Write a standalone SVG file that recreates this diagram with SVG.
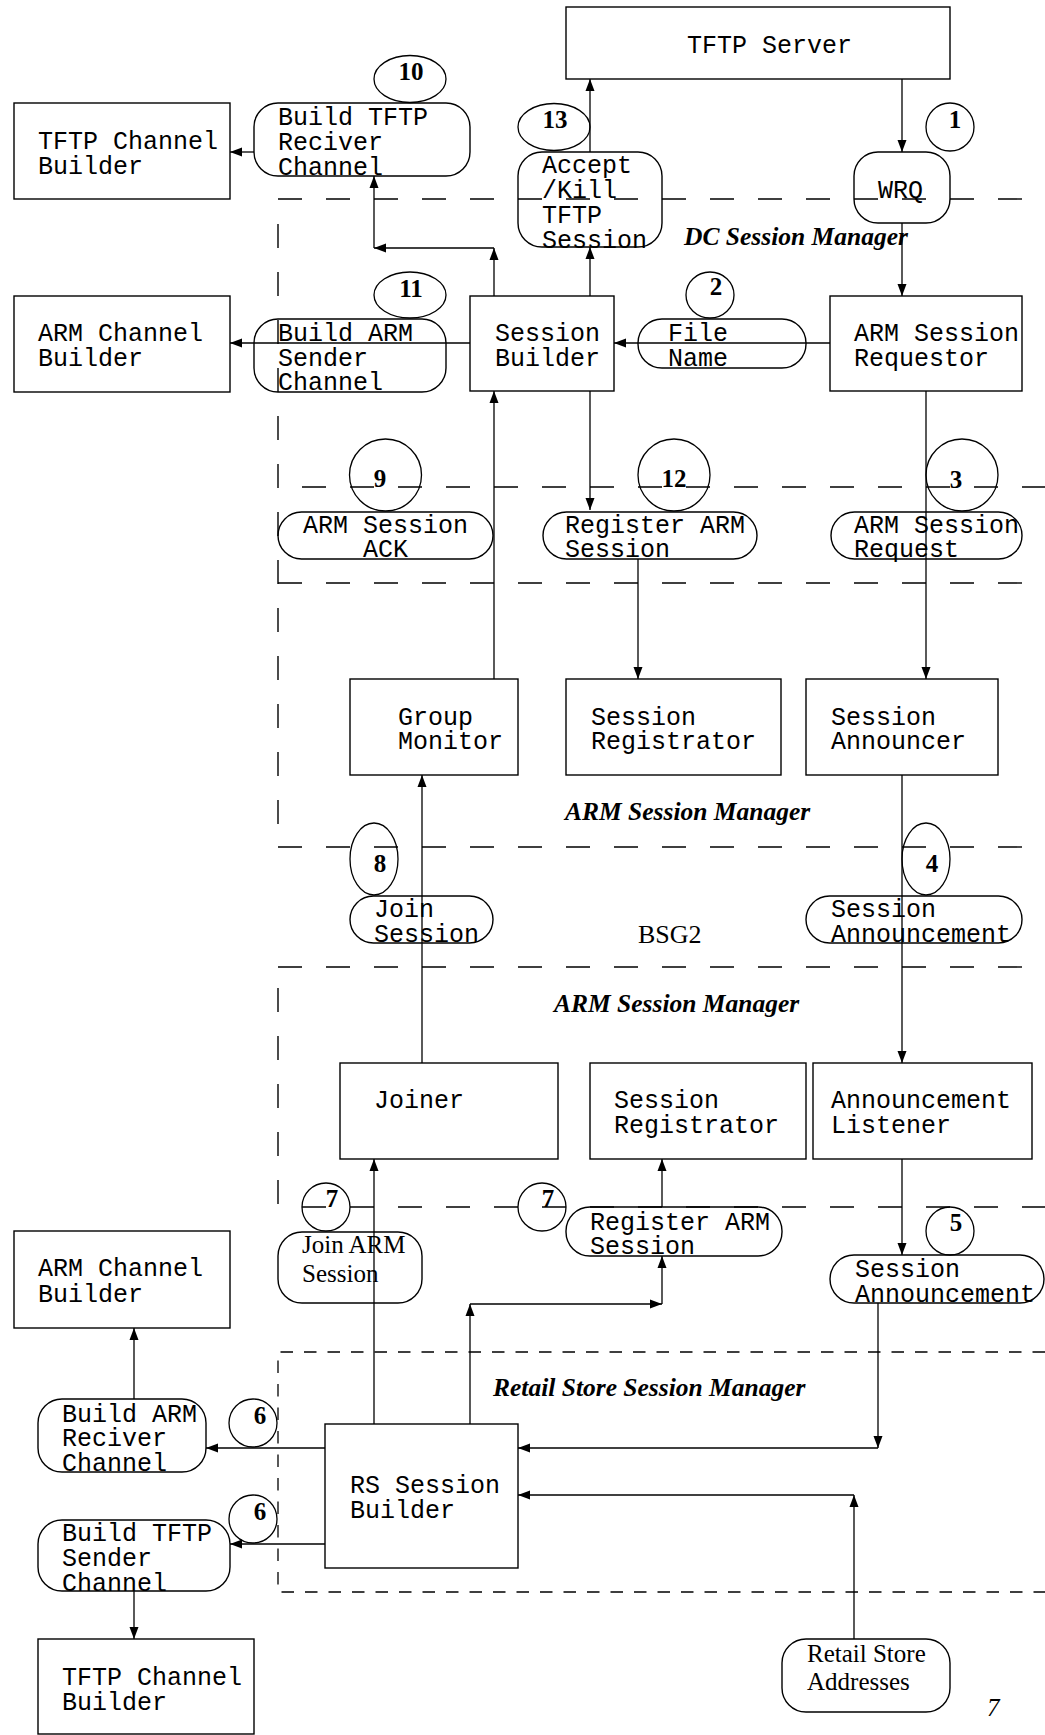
<svg xmlns="http://www.w3.org/2000/svg" width="1045" height="1735" viewBox="0 0 1045 1735">
<style>
.bx{fill:none;stroke:#000;stroke-width:1.4}
.ln{fill:none;stroke:#000;stroke-width:1.3}
.ar{fill:none;stroke:#000;stroke-width:1.3;marker-end:url(#ah)}
.dl{fill:none;stroke:#000;stroke-width:1.4;stroke-dasharray:24 24}
.ds{fill:none;stroke:#000;stroke-width:1.3;stroke-dasharray:12.5 11}
.m{font-family:"Liberation Mono","Courier New",monospace;font-size:25px;fill:#000}
.t{font-family:"Liberation Serif","Times New Roman",serif;font-size:25px;fill:#000}
.n{font-family:"Liberation Serif","Times New Roman",serif;font-size:25px;font-weight:bold;fill:#000;text-anchor:middle}
.h{font-family:"Liberation Serif","Times New Roman",serif;font-size:25.5px;font-weight:bold;font-style:italic;fill:#000}
</style>
<defs>
<marker id="ah" markerWidth="13" markerHeight="10" refX="12" refY="5" orient="auto" markerUnits="userSpaceOnUse">
<path d="M0,0.5 L12,5 L0,9.5 z" fill="#000"/>
</marker>
</defs>
<rect width="1045" height="1735" fill="#fff"/>

<g id="regions">
<path class="dl" d="M278,199 H1045"/>
<path class="dl" d="M278,224 V830"/>
<path class="dl" d="M302,487 H1045"/>
<path class="dl" d="M278,583 H1045"/>
<path class="dl" d="M278,847 H1045"/>
<path class="dl" d="M278,967 H1045"/>
<path class="dl" d="M278,988 V1207"/>
<path class="dl" d="M302,1207 H1045"/>
<path class="ds" d="M1045,1352 H278 V1592 H1045"/>
<text class="h" x="684" y="245">DC Session Manager</text>
<text class="h" x="565" y="820">ARM Session Manager</text>
<text class="t" x="638" y="943" style="font-size:26px">BSG2</text>
<text class="h" x="554" y="1012">ARM Session Manager</text>
<text class="h" x="493" y="1396">Retail Store Session Manager</text>
<text class="t" x="987" y="1716" style="font-style:italic">7</text>
</g>

<g id="tftp-server"><rect class="bx" x="566" y="7" width="384" height="72"/><text class="m" x="687" y="53">TFTP Server</text></g>
<g id="wrq"><rect class="bx" x="854" y="152" width="96" height="71" rx="24"/><text class="m" x="878" y="198">WRQ</text></g>
<g id="accept-kill"><rect class="bx" x="518" y="152" width="144" height="95" rx="24"/><text class="m" x="542" y="173">Accept</text><text class="m" x="542" y="198">/Kill</text><text class="m" x="542" y="223">TFTP</text><text class="m" x="542" y="248">Session</text></g>
<g id="tftp-channel-builder-1"><rect class="bx" x="14" y="103" width="216" height="96"/><text class="m" x="38" y="149">TFTP Channel</text><text class="m" x="38" y="174">Builder</text></g>
<g id="build-tftp-reciver"><rect class="bx" x="254" y="103" width="216" height="73" rx="24"/><text class="m" x="278" y="125">Build TFTP</text><text class="m" x="278" y="150">Reciver</text><text class="m" x="278" y="175">Channel</text></g>
<g id="arm-channel-builder-1"><rect class="bx" x="14" y="296" width="216" height="96"/><text class="m" x="38" y="341">ARM Channel</text><text class="m" x="38" y="366">Builder</text></g>
<g id="build-arm-sender"><rect class="bx" x="254" y="319" width="192" height="73" rx="24"/><text class="m" x="278" y="341">Build ARM</text><text class="m" x="278" y="366">Sender</text><text class="m" x="278" y="390">Channel</text></g>
<g id="session-builder"><rect class="bx" x="470" y="296" width="144" height="95"/><text class="m" x="495" y="341">Session</text><text class="m" x="495" y="366">Builder</text></g>
<g id="file-name"><rect class="bx" x="638" y="319" width="168" height="49" rx="24"/><text class="m" x="668" y="341">File</text><text class="m" x="668" y="366">Name</text></g>
<g id="arm-session-requestor"><rect class="bx" x="830" y="296" width="192" height="95"/><text class="m" x="854" y="341">ARM Session</text><text class="m" x="854" y="366">Requestor</text></g>
<g id="arm-session-ack"><rect class="bx" x="278" y="512" width="215" height="47" rx="23.5"/><text class="m" x="385.5" y="533" text-anchor="middle">ARM Session</text><text class="m" x="385.5" y="557" text-anchor="middle">ACK</text></g>
<g id="register-arm-session-1"><rect class="bx" x="543" y="512" width="214" height="47" rx="23.5"/><text class="m" x="565" y="533">Register ARM</text><text class="m" x="565" y="557">Session</text></g>
<g id="arm-session-request"><rect class="bx" x="831" y="512" width="191" height="47" rx="23.5"/><text class="m" x="854" y="533">ARM Session</text><text class="m" x="854" y="557">Request</text></g>
<g id="group-monitor"><rect class="bx" x="350" y="679" width="168" height="96"/><text class="m" x="398" y="725">Group</text><text class="m" x="398" y="749">Monitor</text></g>
<g id="session-registrator-1"><rect class="bx" x="566" y="679" width="215" height="96"/><text class="m" x="591" y="725">Session</text><text class="m" x="591" y="749">Registrator</text></g>
<g id="session-announcer"><rect class="bx" x="806" y="679" width="192" height="96"/><text class="m" x="831" y="725">Session</text><text class="m" x="831" y="749">Announcer</text></g>
<g id="join-session"><rect class="bx" x="350" y="896" width="143" height="47" rx="23.5"/><text class="m" x="374" y="917">Join</text><text class="m" x="374" y="942">Session</text></g>
<g id="session-announcement-1"><rect class="bx" x="806" y="896" width="216" height="47" rx="23.5"/><text class="m" x="831" y="917">Session</text><text class="m" x="831" y="942">Announcement</text></g>
<g id="joiner"><rect class="bx" x="340" y="1063" width="218" height="96"/><text class="m" x="374" y="1108">Joiner</text></g>
<g id="session-registrator-2"><rect class="bx" x="590" y="1063" width="216" height="96"/><text class="m" x="614" y="1108">Session</text><text class="m" x="614" y="1133">Registrator</text></g>
<g id="announcement-listener"><rect class="bx" x="813" y="1063" width="219" height="96"/><text class="m" x="831" y="1108">Announcement</text><text class="m" x="831" y="1133">Listener</text></g>
<g id="join-arm-session"><rect class="bx" x="278" y="1232" width="144" height="71" rx="24"/><text class="t" x="302" y="1253">Join ARM</text><text class="t" x="302" y="1282">Session</text></g>
<g id="register-arm-session-2"><rect class="bx" x="566" y="1207" width="216" height="49" rx="24"/><text class="m" x="590" y="1230">Register ARM</text><text class="m" x="590" y="1254">Session</text></g>
<g id="session-announcement-2"><rect class="bx" x="830" y="1255" width="214" height="48" rx="24"/><text class="m" x="855" y="1277">Session</text><text class="m" x="855" y="1302">Announcement</text></g>
<g id="arm-channel-builder-2"><rect class="bx" x="14" y="1231" width="216" height="97"/><text class="m" x="38" y="1276">ARM Channel</text><text class="m" x="38" y="1302">Builder</text></g>
<g id="build-arm-reciver"><rect class="bx" x="38" y="1399" width="168" height="73" rx="24"/><text class="m" x="62" y="1422">Build ARM</text><text class="m" x="62" y="1446">Reciver</text><text class="m" x="62" y="1471">Channel</text></g>
<g id="build-tftp-sender"><rect class="bx" x="38" y="1520" width="192" height="71" rx="24"/><text class="m" x="62" y="1541">Build TFTP</text><text class="m" x="62" y="1566">Sender</text><text class="m" x="62" y="1591">Channel</text></g>
<g id="tftp-channel-builder-2"><rect class="bx" x="38" y="1639" width="216" height="95"/><text class="m" x="62" y="1685">TFTP Channel</text><text class="m" x="62" y="1710">Builder</text></g>
<g id="rs-session-builder"><rect class="bx" x="325" y="1424" width="193" height="144"/><text class="m" x="350" y="1493">RS Session</text><text class="m" x="350" y="1518">Builder</text></g>
<g id="retail-store-addresses"><rect class="bx" x="782" y="1639" width="168" height="73" rx="24"/><text class="t" x="807" y="1662">Retail Store</text><text class="t" x="807" y="1690">Addresses</text></g>

<g id="steps">
<ellipse class="ln" cx="410" cy="79" rx="36" ry="23.5"/><text class="n" x="411" y="80">10</text>
<ellipse class="ln" cx="410" cy="295" rx="36" ry="23"/><text class="n" x="411" y="297">11</text>
<ellipse class="ln" cx="554" cy="127" rx="36" ry="23.5"/><text class="n" x="555" y="128">13</text>
<ellipse class="ln" cx="950" cy="127" rx="24" ry="24"/><text class="n" x="955" y="128">1</text>
<ellipse class="ln" cx="710" cy="295" rx="24" ry="23"/><text class="n" x="716" y="295">2</text>
<ellipse class="ln" cx="385.5" cy="475" rx="36" ry="36"/><text class="n" x="380" y="487">9</text>
<ellipse class="ln" cx="674" cy="475" rx="36" ry="36"/><text class="n" x="674" y="487">12</text>
<ellipse class="ln" cx="962" cy="475" rx="36" ry="36"/><text class="n" x="956" y="488">3</text>
<ellipse class="ln" cx="374" cy="859" rx="24" ry="36"/><text class="n" x="380" y="872">8</text>
<ellipse class="ln" cx="926" cy="859" rx="24" ry="36"/><text class="n" x="932" y="872">4</text>
<ellipse class="ln" cx="326" cy="1207" rx="24" ry="24"/><text class="n" x="332" y="1207">7</text>
<ellipse class="ln" cx="542" cy="1207" rx="24" ry="24"/><text class="n" x="548" y="1207">7</text>
<ellipse class="ln" cx="950" cy="1231" rx="24" ry="24"/><text class="n" x="956" y="1231">5</text>
<ellipse class="ln" cx="253" cy="1423" rx="24" ry="24"/><text class="n" x="260" y="1424">6</text>
<ellipse class="ln" cx="253" cy="1519" rx="24" ry="24"/><text class="n" x="260" y="1520">6</text>
</g>

<g id="connectors">
<path class="ar" d="M902,79 V152"/>
<path class="ar" d="M902,223 V296"/>
<path class="ar" d="M830,343 H614"/>
<path class="ar" d="M590,296 V247"/>
<path class="ar" d="M590,152 V79"/>
<path class="ar" d="M494,296 V248"/>
<path class="ar" d="M494,248 H374"/>
<path class="ar" d="M374,248 V176"/>
<path class="ar" d="M254,152 H230"/>
<path class="ar" d="M470,343 H230"/>
<path class="ar" d="M494,679 V391"/>
<path class="ar" d="M590,391 V510"/>
<path class="ar" d="M638,559 V679"/>
<path class="ar" d="M926,391 V679"/>
<path class="ar" d="M902,775 V1063"/>
<path class="ar" d="M422,1063 V775"/>
<path class="ar" d="M374,1424 V1159"/>
<path class="ar" d="M470,1424 V1304"/>
<path class="ar" d="M470,1304 H662"/>
<path class="ar" d="M662,1304 V1256"/>
<path class="ar" d="M662,1207 V1159"/>
<path class="ar" d="M902,1159 V1255"/>
<path class="ar" d="M878,1303 V1448"/>
<path class="ar" d="M878,1448 H518"/>
<path class="ar" d="M854,1639 V1495"/>
<path class="ar" d="M854,1495 H518"/>
<path class="ar" d="M325,1448 H206"/>
<path class="ar" d="M325,1544 H230"/>
<path class="ar" d="M134,1399 V1328"/>
<path class="ar" d="M134,1591 V1639"/>
</g>
</svg>
